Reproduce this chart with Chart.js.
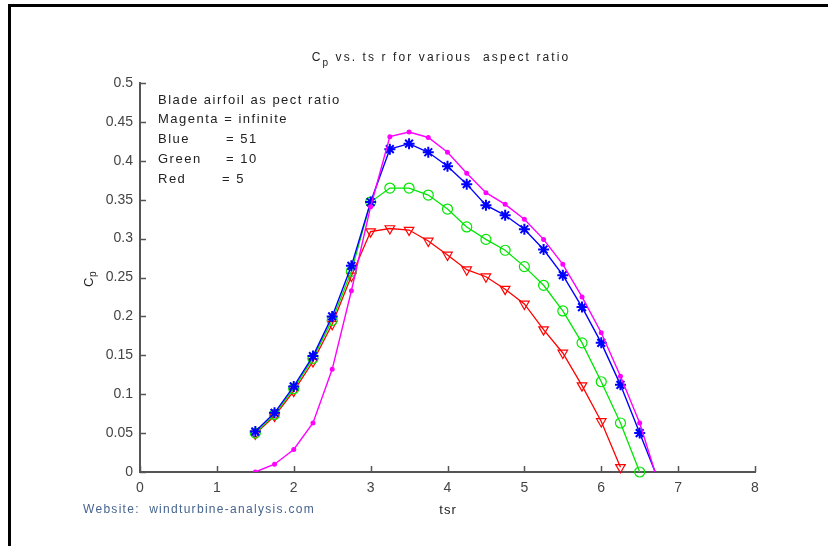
<!DOCTYPE html>
<html>
<head>
<meta charset="utf-8">
<script src="https://cdn.jsdelivr.net/npm/chart.js@4"></script>
<style>
    body { margin: 0; background: #fff; }
    #wrap { position: relative; width: 828px; height: 546px; overflow: hidden; }
    #frame { position: absolute; left: 8px; top: 4px; right: -10px; bottom: -10px; border-top: 3px solid #000; border-left: 3px solid #000; }
    canvas { position: absolute; left: 0; top: 0; }
</style>
</head>
<body>
<div id="wrap">
    <div id="frame"></div>
    <canvas id="myChart" width="828" height="546"></canvas>
</div>
<script>
// tip speed ratio samples
const tsr = [1.5, 1.75, 2, 2.25, 2.5, 2.75, 3, 3.25, 3.5, 3.75, 4, 4.25, 4.5, 4.75, 5, 5.25, 5.5, 5.75, 6, 6.25, 6.5, 6.75];

// Cp per aspect ratio
const cpInfinite = [0.0, 0.010, 0.029, 0.063, 0.132, 0.233, 0.341, 0.431, 0.437, 0.430, 0.411, 0.384, 0.359, 0.344, 0.325, 0.299, 0.267, 0.225, 0.179, 0.123, 0.063, -0.016];
const cpAR51 = [0.052, 0.076, 0.110, 0.149, 0.200, 0.265, 0.347, 0.415, 0.422, 0.411, 0.393, 0.370, 0.343, 0.330, 0.312, 0.286, 0.253, 0.212, 0.166, 0.112, 0.050, -0.012];
const cpAR10 = [0.050, 0.074, 0.107, 0.146, 0.195, 0.258, 0.347, 0.365, 0.365, 0.356, 0.338, 0.315, 0.299, 0.285, 0.264, 0.240, 0.207, 0.166, 0.116, 0.063, 0.0];
const cpAR5 = [0.049, 0.072, 0.104, 0.142, 0.190, 0.252, 0.309, 0.313, 0.311, 0.297, 0.279, 0.260, 0.251, 0.235, 0.216, 0.183, 0.153, 0.111, 0.065, 0.006];

const xTicks = [0, 1, 2, 3, 4, 5, 6, 7, 8];
const yTicks = [0, 0.05, 0.1, 0.15, 0.2, 0.25, 0.3, 0.35, 0.4, 0.45, 0.5];

const notes = [
    ['Blade airfoil as pect ratio', ''],
    ['Magenta = infinite', ''],
    ['Blue', '= 51'],
    ['Green', '= 10'],
    ['Red', '= 5']
];

function toPoints(values) {
    return values.map((v, i) => ({ x: tsr[i], y: v }));
}

const FONT = '"Liberation Sans", Arial, sans-serif';

// inward ticks, text annotations, subscripted title
const extras = {
    id: 'extras',
    afterDraw(chart) {
        const c = chart.ctx;
        const xs = chart.scales.x;
        const ys = chart.scales.y;
        const area = chart.chartArea;
        c.save();
        c.strokeStyle = '#555';
        c.lineWidth = 1.5;
        xs.ticks.forEach((t, i) => {
            const px = Math.round(xs.getPixelForTick(i)) + 0.5;
            c.beginPath();
            c.moveTo(px, area.bottom);
            c.lineTo(px, area.bottom - 6);
            c.stroke();
        });
        ys.ticks.forEach((t, i) => {
            const py = Math.round(ys.getPixelForTick(i)) + 0.5;
            c.beginPath();
            c.moveTo(area.left, py);
            c.lineTo(area.left + 6, py);
            c.stroke();
        });

        // notes inside the axes
        c.fillStyle = '#222';
        c.font = '13px ' + FONT;
        c.textBaseline = 'middle';
        c.letterSpacing = '1.5px';
        notes.forEach((n, i) => {
            const y = 100 + i * 19.8;
            c.fillText(n[0], 158, y);
            if (n[1]) c.fillText(n[1], n[1] === '= 5' ? 222 : 226, y);
        });

        // title with subscript p
        c.letterSpacing = '2.1px';
        c.font = '12px ' + FONT;
        const rest = ' vs. ts r for various  aspect ratio';
        const wC = c.measureText('C').width;
        c.font = '10px ' + FONT;
        const wP = c.measureText('p').width;
        c.font = '12px ' + FONT;
        const wR = c.measureText(rest).width;
        let x0 = 441 - (wC + wP + wR) / 2;
        c.fillText('C', x0, 58);
        c.font = '10px ' + FONT;
        c.fillText('p', x0 + wC, 63);
        c.font = '12px ' + FONT;
        c.fillText(rest, x0 + wC + wP, 58);

        // y axis label
        c.save();
        c.letterSpacing = '0px';
        c.translate(89, 280);
        c.rotate(-Math.PI / 2);
        c.textAlign = 'left';
        c.font = '13px ' + FONT;
        c.fillText('C', -7, 0);
        c.font = '10px ' + FONT;
        c.fillText('p', 3, 4);
        c.restore();

        // x axis label
        c.textAlign = 'center';
        c.letterSpacing = '1px';
        c.font = '13px ' + FONT;
        c.fillText('tsr', 448, 510);

        // source line
        c.textAlign = 'left';
        c.fillStyle = '#46648f';
        c.font = '12px ' + FONT;
        c.letterSpacing = '1.3px';
        c.fillText('Website:  windturbine-analysis.com', 83, 510);
        c.restore();
    }
};

const ctx = document.getElementById('myChart');
const chart = new Chart(ctx, {
    type: 'scatter',
    data: {
        datasets: [{
            label: 'Magenta = infinite',
            data: toPoints(cpInfinite),
            borderColor: '#ff00ff',
            backgroundColor: '#ff00ff',
            borderWidth: 1.4,
            pointStyle: 'circle',
            pointRadius: 1.8,
            showLine: true
        }, {
            label: 'Blue = 51',
            data: toPoints(cpAR51),
            borderColor: '#0000ff',
            backgroundColor: '#0000ff',
            borderWidth: 1.4,
            pointStyle: 'star',
            pointRadius: 5.5,
            pointBorderWidth: 2,
            showLine: true
        }, {
            label: 'Green = 10',
            data: toPoints(cpAR10),
            borderColor: '#00e600',
            backgroundColor: 'rgba(0,0,0,0)',
            borderWidth: 1.3,
            pointStyle: 'circle',
            pointRadius: 5,
            pointBorderWidth: 1.2,
            showLine: true,
            clip: false
        }, {
            label: 'Red = 5',
            data: toPoints(cpAR5),
            borderColor: '#ff0000',
            backgroundColor: 'rgba(0,0,0,0)',
            borderWidth: 1.3,
            pointStyle: 'triangle',
            rotation: 180,
            pointRadius: 5.5,
            pointBorderWidth: 1.2,
            showLine: true,
            clip: false
        }]
    },
    options: {
        responsive: false,
        animation: false,
        layout: { padding: { left: 0, top: 83, right: 73, bottom: 0 } },
        plugins: {
            legend: { display: false },
            tooltip: { enabled: false }
        },
        scales: {
            x: {
                type: 'linear',
                min: 0,
                max: 8,
                afterBuildTicks: s => { s.ticks = xTicks.map(v => ({ value: v })); },
                afterFit: s => { s.height = 74; },
                grid: { display: false, drawTicks: false },
                border: { display: true, color: '#555', width: 2 },
                ticks: {
                    padding: 8,
                    color: '#444',
                    font: { family: FONT, size: 14 },
                    callback: v => String(v)
                }
            },
            y: {
                type: 'linear',
                min: 0,
                max: 0.5,
                afterBuildTicks: s => { s.ticks = yTicks.map(v => ({ value: v })); },
                afterFit: s => { s.width = 140; },
                grid: { display: false, drawTicks: false },
                border: { display: true, color: '#555', width: 2 },
                ticks: {
                    padding: 7,
                    color: '#444',
                    font: { family: FONT, size: 14 },
                    callback: v => String(+v.toFixed(2))
                }
            }
        }
    },
    plugins: [extras]
});
</script>
</body>
</html>
